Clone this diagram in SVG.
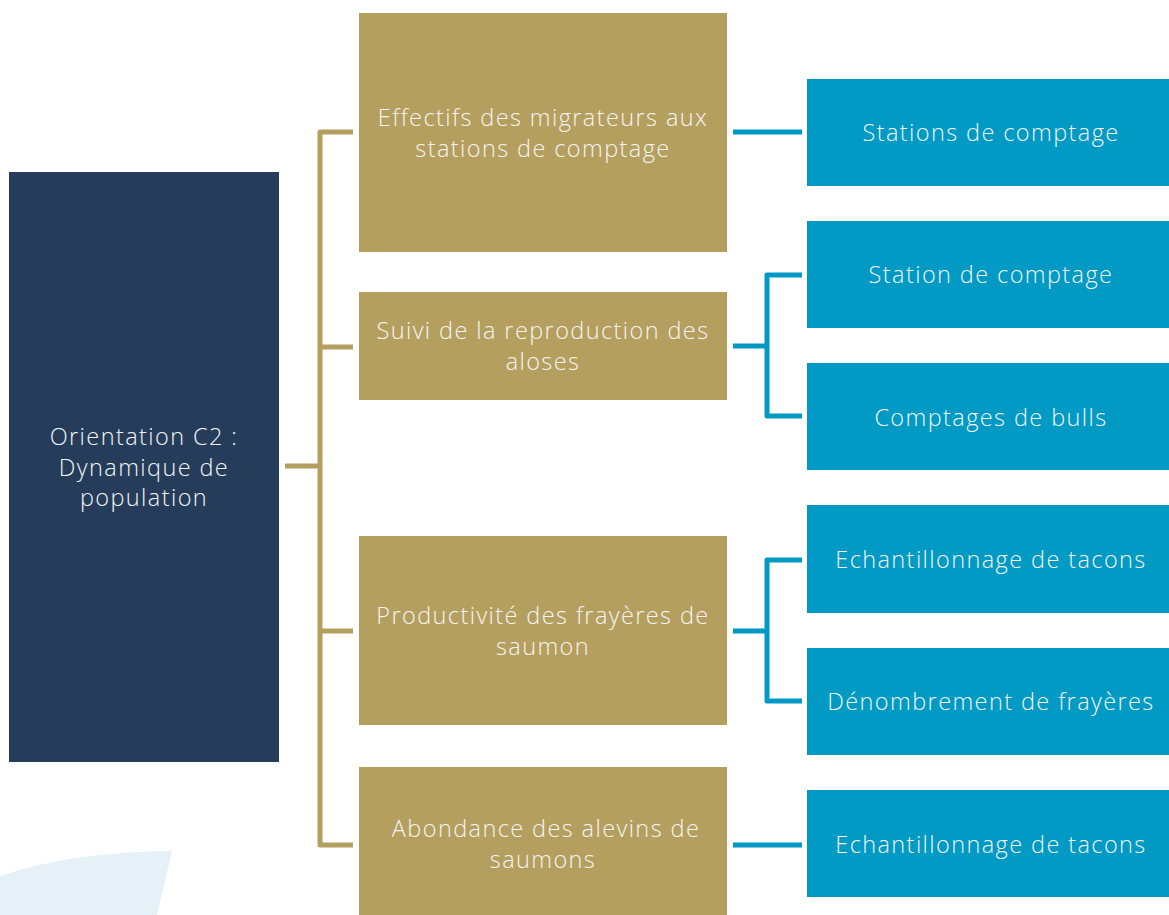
<svg xmlns="http://www.w3.org/2000/svg" width="1169" height="915" viewBox="0 0 1169 915">
<style>
.t{font-family:"Open Sans","Liberation Sans",sans-serif;font-size:23.5px;font-weight:300;letter-spacing:1.4px;fill:#F4F4F4;text-anchor:middle}
.gold{fill:#B59F5E}
.blue{fill:#009AC4}
.gl{stroke:#B59F5E;stroke-width:5;fill:none;stroke-linejoin:round}
.bl{stroke:#0099C6;stroke-width:5;fill:none;stroke-linejoin:round}
</style>
<rect width="1169" height="915" fill="#FFFFFF"/>
<path d="M0,876 Q70,852 172,851 L157,915 L0,915 Z" fill="#E5F1F6"/>
<g id="connectors">
<path class="gl" d="M285,466 H320"/>
<path class="gl" d="M353,132 H320 V845 H353"/>
<path class="gl" d="M320,347 H353"/>
<path class="gl" d="M320,631 H353"/>
<path class="bl" d="M733,132 H802"/>
<path class="bl" d="M733,346 H767"/>
<path class="bl" d="M802,275 H767 V416 H802"/>
<path class="bl" d="M733,631 H767"/>
<path class="bl" d="M802,560 H767 V701 H802"/>
<path class="bl" d="M733,845 H802"/>
</g>
<g id="root">
<rect x="9" y="172" width="270" height="590" fill="#253D5B"/>
<text class="t" x="144" y="445">Orientation C2 :</text>
<text class="t" x="144" y="476">Dynamique de</text>
<text class="t" x="144" y="506">population</text>
</g>
<g id="g1">
<rect class="gold" x="359" y="13" width="368" height="239"/>
<text class="t" x="543" y="126">Effectifs des migrateurs aux</text>
<text class="t" x="543" y="157">stations de comptage</text>
</g>
<g id="g2">
<rect class="gold" x="359" y="292" width="368" height="108"/>
<text class="t" x="543" y="339">Suivi de la reproduction des</text>
<text class="t" x="543" y="370">aloses</text>
</g>
<g id="g3">
<rect class="gold" x="359" y="536" width="368" height="189"/>
<text class="t" x="543" y="624">Productivité des frayères de</text>
<text class="t" x="543" y="655">saumon</text>
</g>
<g id="g4">
<rect class="gold" x="359" y="767" width="368" height="148"/>
<text class="t" x="546" y="837">Abondance des alevins de</text>
<text class="t" x="543" y="868">saumons</text>
</g>
<g id="b1">
<rect class="blue" x="807" y="79" width="362" height="107"/>
<text class="t" x="991" y="141">Stations de comptage</text>
</g>
<g id="b2">
<rect class="blue" x="807" y="221" width="362" height="107"/>
<text class="t" x="991" y="283">Station de comptage</text>
</g>
<g id="b3">
<rect class="blue" x="807" y="363" width="362" height="107"/>
<text class="t" x="991" y="426">Comptages de bulls</text>
</g>
<g id="b4">
<rect class="blue" x="807" y="505" width="362" height="108"/>
<text class="t" x="991" y="568">Echantillonnage de tacons</text>
</g>
<g id="b5">
<rect class="blue" x="807" y="648" width="362" height="107"/>
<text class="t" x="991" y="710">Dénombrement de frayères</text>
</g>
<g id="b6">
<rect class="blue" x="807" y="790" width="362" height="107"/>
<text class="t" x="991" y="853">Echantillonnage de tacons</text>
</g>
</svg>
